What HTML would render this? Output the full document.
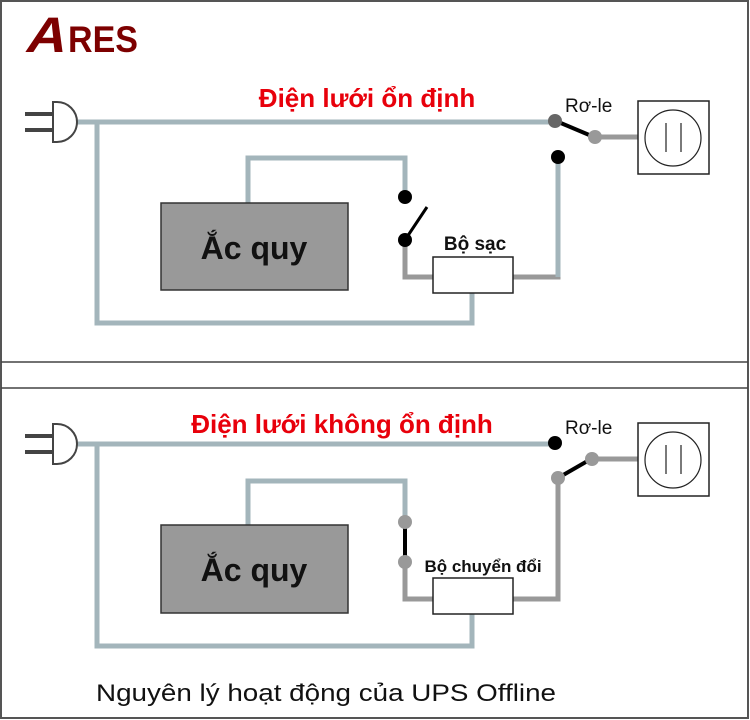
<!DOCTYPE html>
<html><head><meta charset="utf-8"><style>html,body{margin:0;padding:0;background:#fff}svg{display:block}</style></head>
<body>
<svg width="750" height="720" viewBox="0 0 750 720" xmlns="http://www.w3.org/2000/svg" font-family="Liberation Sans, Arial, sans-serif">
<rect x="1" y="1" width="747" height="717" fill="#fff" stroke="#555" stroke-width="2"/>
<line x1="1" y1="362" x2="748" y2="362" stroke="#444" stroke-width="1.5"/>
<line x1="1" y1="388" x2="748" y2="388" stroke="#444" stroke-width="1.5"/>
<!-- logo -->
<text x="24" y="52" font-size="50" font-weight="bold" fill="#7d0000" transform="skewX(-15) translate(14 0)" textLength="40" lengthAdjust="spacingAndGlyphs">A</text>
<text x="68" y="52" font-size="37" font-weight="bold" fill="#7d0000" textLength="70" lengthAdjust="spacingAndGlyphs">RES</text>

<!-- TOP PANEL -->
<g fill="none" stroke-width="5">
<path d="M76 122 H555" stroke="#a3b5bb"/>
<path d="M97 122 V323 H472 V292" stroke="#a3b5bb"/>
<path d="M248 203 V158 H405 V197" stroke="#a3b5bb"/>
<path d="M405 240 V277 H433" stroke="#999"/>
<path d="M513 277 H558 V157" stroke="#999"/>
<path d="M558 277 V157" stroke="#a3b5bb"/>
<path d="M596 137 H638" stroke="#999"/>
</g>
<line x1="25" y1="114" x2="53" y2="114" stroke="#444" stroke-width="4"/>
<line x1="25" y1="130" x2="53" y2="130" stroke="#444" stroke-width="4"/>
<path d="M53 102 H57 A20 20 0 0 1 57 142 H53 Z" fill="#fff" stroke="#444" stroke-width="2"/>
<rect x="161" y="203" width="187" height="87" fill="#999" stroke="#333" stroke-width="1.5"/>
<text x="254" y="259" font-size="32" font-weight="bold" text-anchor="middle" fill="#111">Ắc quy</text>
<circle cx="405" cy="197" r="7" fill="#000"/>
<circle cx="405" cy="240" r="7" fill="#000"/>
<line x1="405" y1="240" x2="427" y2="207" stroke="#000" stroke-width="3"/>
<rect x="433" y="257" width="80" height="36" fill="#fff" stroke="#222" stroke-width="1.5"/>
<text x="475" y="250" font-size="19" font-weight="bold" text-anchor="middle" fill="#111">Bộ sạc</text>
<circle cx="558" cy="157" r="7" fill="#000"/>
<line x1="556" y1="121" x2="594" y2="137" stroke="#000" stroke-width="4"/>
<circle cx="555" cy="121" r="7" fill="#666"/>
<circle cx="595" cy="137" r="7" fill="#999"/>
<text x="565" y="112" font-size="19" fill="#111">Rơ-le</text>
<rect x="638" y="101" width="71" height="73" fill="#fff" stroke="#222" stroke-width="1.5"/>
<circle cx="673" cy="138" r="28" fill="none" stroke="#222" stroke-width="1.2"/>
<line x1="666" y1="123" x2="666" y2="152" stroke="#222" stroke-width="1.2"/>
<line x1="681" y1="123" x2="681" y2="152" stroke="#222" stroke-width="1.2"/>
<text x="367" y="107" font-size="26" font-weight="bold" text-anchor="middle" fill="#e8000b">Điện lưới ổn định</text>

<!-- BOTTOM PANEL -->
<g fill="none" stroke-width="5">
<path d="M76 444 H555" stroke="#a3b5bb"/>
<path d="M97 444 V646 H472 V614" stroke="#a3b5bb"/>
<path d="M248 525 V481 H405 V522" stroke="#a3b5bb"/>
<path d="M405 562 V599 H433" stroke="#999"/>
<path d="M513 599 H558 V478" stroke="#999"/>
<path d="M591 459 H638" stroke="#999"/>
</g>
<line x1="25" y1="436" x2="53" y2="436" stroke="#444" stroke-width="4"/>
<line x1="25" y1="452" x2="53" y2="452" stroke="#444" stroke-width="4"/>
<path d="M53 424 H57 A20 20 0 0 1 57 464 H53 Z" fill="#fff" stroke="#444" stroke-width="2"/>
<rect x="161" y="525" width="187" height="88" fill="#999" stroke="#333" stroke-width="1.5"/>
<text x="254" y="581" font-size="32" font-weight="bold" text-anchor="middle" fill="#111">Ắc quy</text>
<line x1="405" y1="522" x2="405" y2="562" stroke="#000" stroke-width="4"/>
<circle cx="405" cy="522" r="7" fill="#999"/>
<circle cx="405" cy="562" r="7" fill="#999"/>
<rect x="433" y="578" width="80" height="36" fill="#fff" stroke="#222" stroke-width="1.5"/>
<text x="483" y="572" font-size="17" font-weight="bold" text-anchor="middle" fill="#111">Bộ chuyển đổi</text>
<circle cx="555" cy="443" r="7" fill="#000"/>
<line x1="558" y1="478" x2="591" y2="459" stroke="#000" stroke-width="4"/>
<circle cx="558" cy="478" r="7" fill="#999"/>
<circle cx="592" cy="459" r="7" fill="#999"/>
<text x="565" y="434" font-size="19" fill="#111">Rơ-le</text>
<rect x="638" y="423" width="71" height="73" fill="#fff" stroke="#222" stroke-width="1.5"/>
<circle cx="673" cy="460" r="28" fill="none" stroke="#222" stroke-width="1.2"/>
<line x1="666" y1="445" x2="666" y2="474" stroke="#222" stroke-width="1.2"/>
<line x1="681" y1="445" x2="681" y2="474" stroke="#222" stroke-width="1.2"/>
<text x="342" y="433" font-size="26" font-weight="bold" text-anchor="middle" fill="#e8000b">Điện lưới không ổn định</text>

<text x="96" y="701" font-size="24" fill="#111" textLength="460" lengthAdjust="spacingAndGlyphs">Nguyên lý hoạt động của UPS Offline</text>
</svg>
</body></html>
